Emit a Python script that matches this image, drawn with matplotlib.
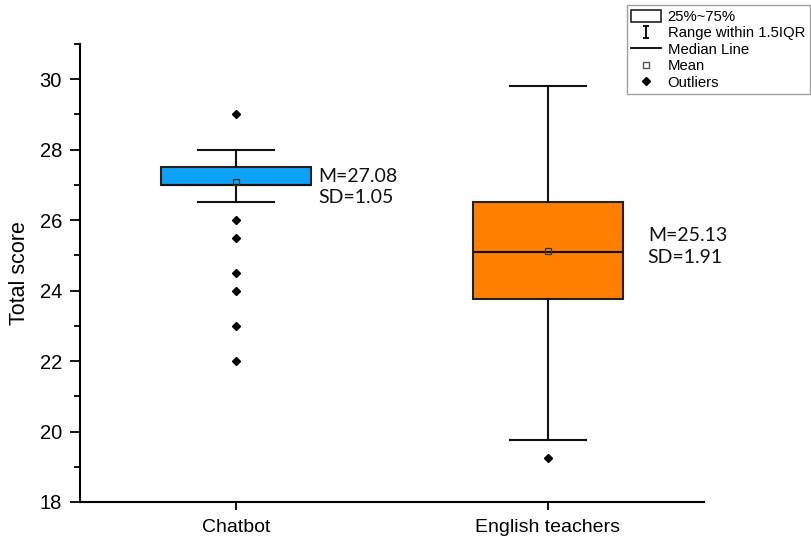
import numpy as np
import matplotlib.pyplot as plt
from matplotlib.path import Path
from matplotlib.lines import Line2D
from matplotlib.patches import Patch
from matplotlib.ticker import MultipleLocator

plt.rcParams['font.family'] = ['Liberation Sans', 'DejaVu Sans']

groups = ['Chatbot', 'English teachers']
q1 = [27.0, 23.75]
q3 = [27.5, 26.5]
medians = [27.0, 25.1]
means = [27.08, 25.13]
sds = [1.05, 1.91]
whislo = [26.5, 19.75]
whishi = [28.0, 29.8]
outliers = [[29.0, 26.0, 25.5, 24.5, 24.0, 23.0, 22.0], [19.25]]
box_colors = ['#0fa0f8', '#ff8000']

stats = []
for i in range(len(groups)):
    stats.append(dict(label=groups[i], q1=q1[i], q3=q3[i], med=medians[i], mean=means[i],
                      whislo=whislo[i], whishi=whishi[i], fliers=outliers[i]))

fig = plt.figure(figsize=(8.12, 5.37), dpi=100)
ax = fig.add_axes([0.0985, 0.0652, 0.7685, 0.853])

pos = np.arange(1, len(groups) + 1)
bp = ax.bxp(stats, positions=pos, widths=0.48, patch_artist=True, showmeans=True,
            showfliers=True, whiskerprops=dict(color='#111111', lw=1.5),
            capprops=dict(color='#111111', lw=1.5), capwidths=0.245,
            medianprops=dict(color='#111111', lw=1.5),
            boxprops=dict(edgecolor='#222222', lw=1.5),
            meanprops=dict(marker='s', markersize=5, markerfacecolor='none',
                           markeredgecolor='#333333', markeredgewidth=0.9),
            flierprops=dict(marker='D', markersize=4.5, markerfacecolor='black',
                            markeredgecolor='black'))
for patch, c in zip(bp['boxes'], box_colors):
    patch.set_facecolor(c)

# M / SD annotations next to each box
label_x = [0.263, 0.32]
label_y = [26.95, 25.25]
for i in range(len(groups)):
    ax.text(pos[i] + label_x[i], label_y[i], 'M=%.2f\nSD=%.2f' % (means[i], sds[i]),
            fontsize=14, family=['Lato', 'DejaVu Sans'], va='center', ha='left',
            linespacing=1.3, color='#111111')

ax.set_xlim(0.5, 2.5)
ax.set_ylim(18, 31)
ax.set_xticks(pos)
ax.set_xticklabels(groups, fontsize=14)
ax.set_yticks(np.arange(18, 31, 2))
ax.yaxis.set_minor_locator(MultipleLocator(1))
ax.tick_params(axis='y', labelsize=14.5, length=7, width=1.3, direction='out', pad=6)
ax.tick_params(axis='y', which='minor', length=4, width=1.3)
ax.tick_params(axis='x', length=6, width=1.3, pad=6)
ax.set_ylabel('Total score', fontsize=15.5, labelpad=7)
for s in ['top', 'right']:
    ax.spines[s].set_visible(False)
for s in ['left', 'bottom']:
    ax.spines[s].set_linewidth(1.5)

ibeam = Path([(-0.5, 1), (0.5, 1), (0, 1), (0, -1), (-0.5, -1), (0.5, -1)],
             [Path.MOVETO, Path.LINETO, Path.MOVETO, Path.LINETO, Path.MOVETO, Path.LINETO])
handles = [
    Patch(facecolor='white', edgecolor='#222222', lw=1.2),
    Line2D([], [], marker=ibeam, markersize=9, color='black', lw=0, markeredgewidth=1.3),
    Line2D([], [], color='black', lw=1.3),
    Line2D([], [], marker='s', markersize=4, markerfacecolor='none',
           markeredgecolor='#555555', lw=0),
    Line2D([], [], marker='D', markersize=4.5, color='black', lw=0),
]
labels = ['25%~75%', 'Range within 1.5IQR', 'Median Line', 'Mean', 'Outliers']
leg = fig.legend(handles, labels, loc='upper right', bbox_to_anchor=(0.997, 0.99),
                 fontsize=10.7, frameon=True, fancybox=False, edgecolor='#888888',
                 handlelength=2.0, handleheight=0.85, labelspacing=0.16,
                 borderpad=0.3, handletextpad=0.45, borderaxespad=0)
leg.get_frame().set_linewidth(1.0)

fig.savefig('out.png', dpi=100)
